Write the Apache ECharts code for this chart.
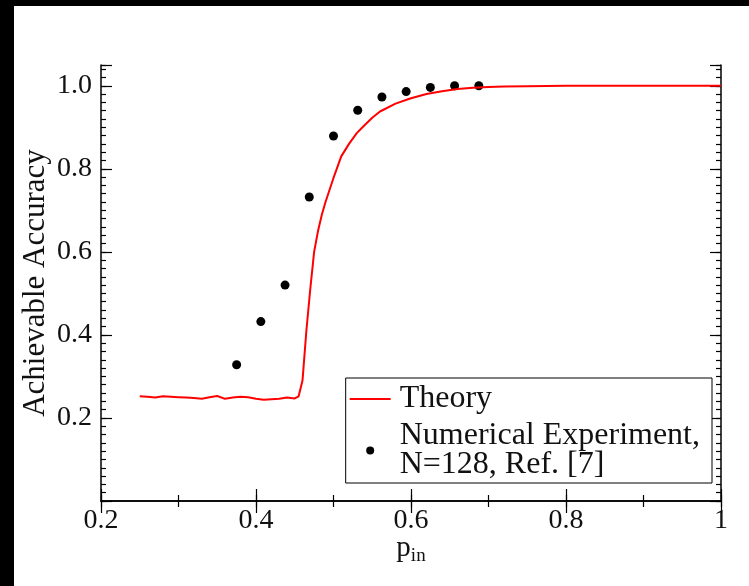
<!DOCTYPE html>
<html>
<head>
    <meta charset="UTF-8">
    <title>Achievable Accuracy</title>
    <script src="https://cdn.jsdelivr.net/npm/echarts@6/dist/echarts.min.js"></script>
    <style>
        html, body { margin: 0; padding: 0; background: #000; }
        #main { position: absolute; left: 14px; top: 6px; width: 735px; height: 580px; background: #fff; }
    </style>
</head>
<body>
<div id="main"></div>
<script type="text/javascript">
    // theory curve
    var theoryX = [0.25, 0.26, 0.27, 0.28, 0.29, 0.30, 0.31, 0.32, 0.33, 0.34, 0.35, 0.36, 0.37, 0.38, 0.39,
        0.40, 0.41, 0.42, 0.43, 0.44, 0.45, 0.455, 0.46, 0.465, 0.47, 0.475, 0.48, 0.485, 0.49, 0.50,
        0.51, 0.52, 0.53, 0.54, 0.55, 0.56, 0.58, 0.60, 0.62, 0.64, 0.66, 0.68, 0.70, 0.72, 0.75,
        0.80, 0.85, 0.90, 0.95, 1.0];
    var theoryY = [0.252, 0.251, 0.249, 0.252, 0.251, 0.250, 0.249, 0.248, 0.246, 0.250, 0.253, 0.246, 0.249, 0.251, 0.250,
        0.246, 0.244, 0.245, 0.246, 0.249, 0.247, 0.252, 0.29, 0.41, 0.51, 0.60, 0.65, 0.69, 0.722, 0.778,
        0.83, 0.86, 0.886, 0.905, 0.923, 0.938, 0.957, 0.970, 0.980, 0.987, 0.992, 0.995, 0.997, 0.998, 0.999,
        1.0, 1.0, 1.0, 1.0, 1.0];
    // numerical experiment, N=128
    var expX = [0.375, 0.40625, 0.4375, 0.46875, 0.5, 0.53125, 0.5625, 0.59375, 0.625, 0.65625, 0.6875];
    var expY = [0.328, 0.432, 0.520, 0.732, 0.879, 0.941, 0.973, 0.986, 0.996, 1.0, 1.0];

    var theoryName = 'Theory';
    var expName = 'Numerical Experiment,\nN=128, Ref. [7]';

    var serif = '"Liberation Serif", "DejaVu Serif", serif';

    function pairs(xs, ys) {
        var out = [];
        for (var i = 0; i < xs.length; i++) out.push([xs[i], ys[i]]);
        return out;
    }

    function fmtX(v) {
        if (Math.abs(v - 1) < 1e-9) return '1';
        return v.toFixed(1);
    }
    function fmtY(v) {
        if (v < 0.1 || v > 1.01) return '';
        return v.toFixed(1);
    }

    var axisLine = {show: true, lineStyle: {color: '#000', width: 1.5}};
    var majorTick = function (len) {
        return {show: true, inside: true, length: len, lineStyle: {color: '#000', width: 1.2}};
    };

    // 基于准备好的dom，初始化echarts实例
    var myChart = echarts.init(document.getElementById('main'));

    var option = {
        backgroundColor: '#fff',
        animation: false,
        grid: {left: 87, right: 28, top: 59, bottom: 85, containLabel: false, outerBoundsMode: 'none'},
        legend: {
            orient: 'vertical',
            right: 37,
            top: 372,
            backgroundColor: '#fff',
            borderColor: '#000',
            borderWidth: 1,
            padding: [5, 12, 2, 4],
            itemGap: 5,
            itemWidth: 41,
            itemHeight: 8,
            textStyle: {
                fontFamily: serif,
                fontSize: 32,
                lineHeight: 29,
                color: '#111',
                padding: [0, 0, 0, 4]
            },
            data: [
                {name: theoryName, icon: 'path://M0,0L41,0L41,2L0,2Z', itemStyle: {color: '#ff0000'}},
                {name: expName, icon: 'circle', itemStyle: {color: '#000'}}
            ]
        },
        xAxis: [
            {
                type: 'value', position: 'bottom', min: 0.2, max: 1, interval: 0.2,
                axisLine: axisLine,
                axisTick: majorTick(12),
                axisLabel: {formatter: fmtX, fontFamily: serif, fontSize: 28, color: '#111', margin: 6},
                splitLine: {show: false},
                name: '{p|p}{s|in}',
                nameLocation: 'middle',
                nameGap: 30,
                nameMoveOverlap: false,
                nameTextStyle: {
                    rich: {
                        p: {fontFamily: serif, fontSize: 29, color: '#111'},
                        s: {fontFamily: serif, fontSize: 19, color: '#111', padding: [16, 0, 0, 0]}
                    }
                }
            },
            {
                type: 'value', position: 'bottom', min: 0.2, max: 1, interval: 0.1, offset: 0,
                axisLine: {show: false},
                axisTick: majorTick(6),
                axisLabel: {show: false},
                splitLine: {show: false}
            },
            {
                type: 'value', position: 'top', min: 0.2, max: 1, interval: 0.2, offset: 0,
                axisLine: axisLine,
                axisTick: majorTick(12),
                axisLabel: {show: false},
                splitLine: {show: false}
            },
            {
                type: 'value', position: 'top', min: 0.2, max: 1, interval: 0.1, offset: 0,
                axisLine: {show: false},
                axisTick: majorTick(6),
                axisLabel: {show: false},
                splitLine: {show: false}
            }
        ],
        yAxis: [
            {
                type: 'value', position: 'left', min: 0, max: 1.05, interval: 0.2,
                axisLine: axisLine,
                axisTick: majorTick(11),
                axisLabel: {formatter: fmtY, fontFamily: serif, fontSize: 28, color: '#111', margin: 9},
                splitLine: {show: false},
                name: 'Achievable Accuracy',
                nameLocation: 'middle',
                nameGap: 50,
                nameMoveOverlap: false,
                nameTextStyle: {fontFamily: serif, fontSize: 31, color: '#111'}
            },
            {
                type: 'value', position: 'left', min: 0, max: 1.05, interval: 0.02, offset: 0,
                axisLine: {show: false},
                axisTick: majorTick(5),
                axisLabel: {show: false},
                splitLine: {show: false}
            },
            {
                type: 'value', position: 'right', min: 0, max: 1.05, interval: 0.2, offset: 0,
                axisLine: axisLine,
                axisTick: majorTick(11),
                axisLabel: {show: false},
                splitLine: {show: false}
            },
            {
                type: 'value', position: 'right', min: 0, max: 1.05, interval: 0.02, offset: 0,
                axisLine: {show: false},
                axisTick: majorTick(5),
                axisLabel: {show: false},
                splitLine: {show: false}
            }
        ],
        series: [
            {
                name: theoryName,
                type: 'line',
                xAxisIndex: 0,
                yAxisIndex: 0,
                symbol: 'none',
                smooth: false,
                lineStyle: {color: '#ff0000', width: 2},
                itemStyle: {color: '#ff0000'},
                data: pairs(theoryX, theoryY)
            },
            {
                name: expName,
                type: 'scatter',
                xAxisIndex: 0,
                yAxisIndex: 0,
                symbol: 'circle',
                symbolSize: 9,
                itemStyle: {color: '#000', opacity: 1},
                data: pairs(expX, expY)
            }
        ]
    };
    // 使用刚指定的配置项和数据显示图表。
    myChart.setOption(option);
</script>
</body>
</html>
